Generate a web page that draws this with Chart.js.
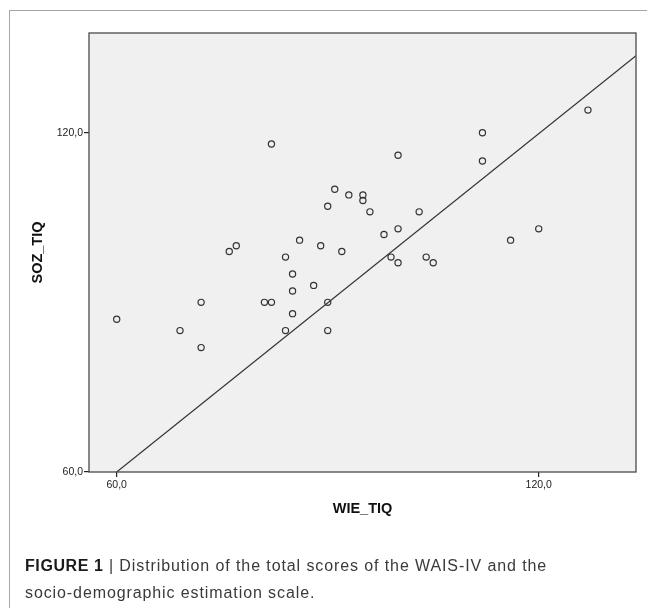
<!DOCTYPE html>
<html>
<head>
<meta charset="utf-8">
<script src="https://cdn.jsdelivr.net/npm/chart.js@4.4.1/dist/chart.umd.min.js"></script>
<style>
  html, body { margin: 0; padding: 0; background: #fff; }
  #wrap { position: relative; width: 647px; height: 608px; overflow: hidden; }
  #frame { position: absolute; left: 9px; top: 10px; width: 700px; height: 700px;
           border-top: 1.5px solid #a6a6a6; border-left: 1.5px solid #a6a6a6; }
  canvas { position: absolute; left: 0; top: 0; }
  #caption { position: absolute; left: 25px; top: 552px; width: 620px;
             font-family: "Liberation Sans", Arial, sans-serif; font-size: 16px;
             letter-spacing: 0.9px; line-height: 27px; color: #3a3a3a; white-space: nowrap; }
  #caption b { color: #1a1a1a; letter-spacing: 0.6px; }
</style>
</head>
<body>
<div id="wrap">
  <div id="frame"></div>
  <canvas id="c" width="647" height="608"></canvas>
  <div id="caption"><b>FIGURE 1</b> | Distribution of the total scores of the WAIS-IV and the<br>socio-demographic estimation scale.</div>
</div>
<script>
// ---- data ----
const wieTIQ = [82, 90, 86, 89, 76, 77, 84, 85, 88, 85, 72, 81, 82, 90, 60, 69, 72, 85, 84, 90,
                91, 93, 95, 95, 96, 100, 103, 98, 100, 92, 99, 100, 104, 105, 112, 112, 127, 116, 120];
const sozTIQ = [118, 107, 101, 100, 99, 100, 98, 95, 93, 92, 90, 90, 90, 90, 87, 85, 82, 88, 85, 85,
                110, 109, 109, 108, 106, 116, 106, 102, 103, 99, 98, 97, 98, 97, 120, 115, 124, 101, 103];
const refLineX = [60, 133.83];
const refLineY = [60, 133.6];
const xTickValues = [60, 120];
const xTickLabels = ['60,0', '120,0'];
const yTickValues = [60, 120];
const yTickLabels = ['60,0', '120,0'];
const xTitle = 'WIE_TIQ';
const yTitle = 'SOZ_TIQ';

const points = wieTIQ.map((x, i) => ({ x: x, y: sozTIQ[i] }));
const linePts = refLineX.map((x, i) => ({ x: x, y: refLineY[i] }));

const plotBox = {
  id: 'plotBox',
  beforeDraw(chart) {
    const a = chart.chartArea, ctx = chart.ctx;
    ctx.save();
    ctx.fillStyle = '#f0f0f0';
    ctx.fillRect(a.left, a.top, a.right - a.left, a.bottom - a.top);
    ctx.restore();
  },
  afterDraw(chart) {
    const a = chart.chartArea, ctx = chart.ctx;
    ctx.save();
    ctx.strokeStyle = '#4a4a4a';
    ctx.lineWidth = 1.3;
    ctx.strokeRect(a.left, a.top, a.right - a.left, a.bottom - a.top);
    ctx.restore();
  }
};

const tickFont = { family: '"Liberation Sans", Arial, sans-serif', size: 10.5 };
const titleFont = { family: '"Liberation Sans", Arial, sans-serif', size: 14.5, weight: 'bold' };

new Chart(document.getElementById('c'), {
  type: 'scatter',
  data: {
    datasets: [
      {
        data: points,
        pointRadius: 3.1,
        pointHoverRadius: 3.1,
        pointBorderWidth: 1.2,
        borderColor: '#333',
        pointBackgroundColor: 'rgba(0,0,0,0)',
        backgroundColor: 'rgba(0,0,0,0)'
      },
      {
        data: linePts,
        showLine: true,
        pointRadius: 0,
        borderColor: '#333',
        borderWidth: 1.2,
        fill: false
      }
    ]
  },
  plugins: [plotBox],
  options: {
    responsive: false,
    animation: false,
    events: [],
    layout: { padding: { left: 29, top: 33, right: 11, bottom: 90.3 } },
    plugins: { legend: { display: false }, tooltip: { enabled: false } },
    scales: {
      x: {
        type: 'linear',
        min: 56.06,
        max: 133.83,
        afterBuildTicks(s) { s.ticks = xTickValues.map(v => ({ value: v })); },
        afterFit(s) { s.height = 45.7; },
        ticks: {
          font: tickFont,
          color: '#222',
          padding: 2,
          maxRotation: 0,
          autoSkip: false,
          callback: (v) => xTickLabels[xTickValues.indexOf(v)]
        },
        grid: { display: true, drawOnChartArea: false, drawTicks: true, tickLength: 5, color: '#222', lineWidth: 1.2 },
        border: { display: false },
        title: { display: true, text: xTitle, font: titleFont, color: '#111', padding: 0 }
      },
      y: {
        type: 'linear',
        min: 60,
        max: 137.63,
        afterBuildTicks(s) { s.ticks = yTickValues.map(v => ({ value: v })); },
        afterFit(s) { s.width = 60; },
        ticks: {
          font: tickFont,
          color: '#222',
          padding: 1,
          autoSkip: false,
          callback: (v) => yTickLabels[yTickValues.indexOf(v)]
        },
        grid: { display: true, drawOnChartArea: false, drawTicks: true, tickLength: 5, color: '#222', lineWidth: 1.2 },
        border: { display: false },
        title: { display: true, text: yTitle, font: titleFont, color: '#111', padding: 0 }
      }
    }
  }
});
</script>
</body>
</html>
